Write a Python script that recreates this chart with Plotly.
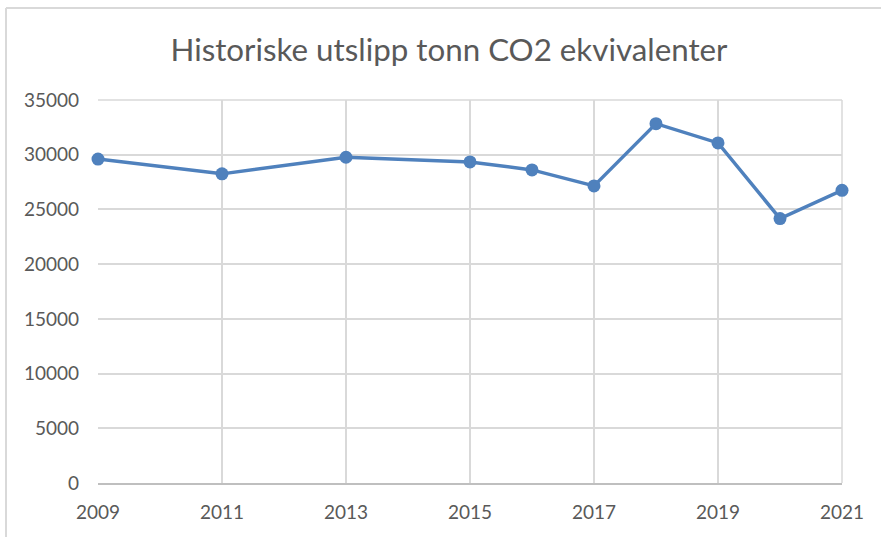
import plotly.graph_objects as go

years = [2009, 2011, 2013, 2015, 2016, 2017, 2018, 2019, 2020, 2021]
emissions = [29600, 28250, 29770, 29340, 28610, 27150, 32840, 31080, 24160, 26750]
title_text = "Historiske utslipp tonn CO2 ekvivalenter"

W, H = 881, 537
L, R, T, B = 98, 39, 100, 54
pw = W - L - R
ph = H - T - B

fig = go.Figure()
fig.add_trace(go.Scatter(
    x=years, y=emissions, mode="lines+markers",
    line=dict(color="#4f81bd", width=3.5),
    marker=dict(color="#4f81bd", size=13),
    showlegend=False, cliponaxis=False,
))

font_family = "Lato, 'Open Sans', sans-serif"
fig.update_layout(
    width=W, height=H,
    margin=dict(l=L, r=R, t=T, b=B),
    paper_bgcolor="white", plot_bgcolor="white",
    title=dict(text=title_text, x=449 / W, xref="container", xanchor="center",
               y=1 - 50 / H, yref="container", yanchor="middle",
               font=dict(family=font_family, size=31.3, color="#595959")),
    font=dict(family=font_family, color="#595959"),
    xaxis=dict(range=[2009, 2021], tickmode="linear", tick0=2009, dtick=2,
               tickformat="d",
               showgrid=True, gridcolor="#d9d9d9", gridwidth=1.5,
               showline=True, linecolor="#bfbfbf", linewidth=2, mirror=False,
               zeroline=False, ticks="", ticklen=0,
               tickfont=dict(size=19, color="#595959"), ticklabelstandoff=11),
    yaxis=dict(range=[0, 35000], tickmode="linear", tick0=0, dtick=5000,
               tickformat="d", separatethousands=False,
               showgrid=True, gridcolor="#d9d9d9", gridwidth=1.5,
               showline=False, zeroline=False, ticks="",
               tickfont=dict(size=19, color="#595959"), ticklabelstandoff=18),
)

# Plot-area right border line (grid edge) and top edge
fig.add_shape(type="line", xref="paper", yref="paper", x0=1, x1=1, y0=0, y1=1,
              line=dict(color="#d9d9d9", width=1.5), layer="below")
fig.add_shape(type="line", xref="paper", yref="paper", x0=0, x1=1, y0=1, y1=1,
              line=dict(color="#d9d9d9", width=1.5), layer="below")

# Chart outer frame (left and top edges visible)
fx = (6 - L) / pw
fy_top = 1 + (T - 8) / ph
fy_bot = -(H + 5 - T - ph) / ph
fx_right = 1 + (R + 5) / pw
fig.add_shape(type="line", xref="paper", yref="paper", x0=fx, x1=fx, y0=fy_bot, y1=fy_top,
              line=dict(color="#d9d9d9", width=2))
fig.add_shape(type="line", xref="paper", yref="paper", x0=fx, x1=fx_right, y0=fy_top, y1=fy_top,
              line=dict(color="#d9d9d9", width=2))

fig.write_html("out.html", config={"displayModeBar": False},
               post_script="document.body.style.margin='0px';")
